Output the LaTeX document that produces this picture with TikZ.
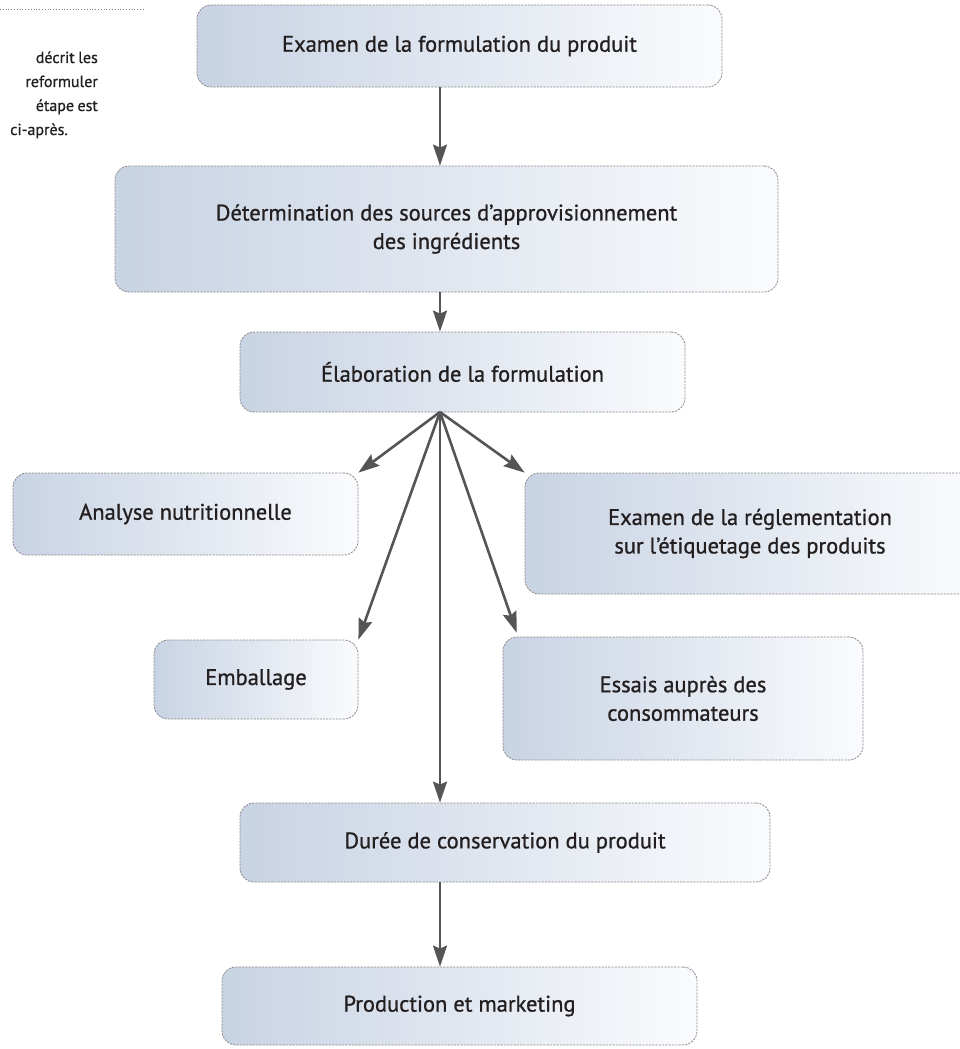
\documentclass[tikz,border=0pt]{standalone}
\usepackage{fontspec}
\setmainfont{PT Sans}
\newfontfamily\boxfont[RawFeature={embolden=0.9}]{PT Sans}
\usetikzlibrary{arrows.meta}

\definecolor{boxleft}{RGB}{200,211,227}
\definecolor{boxright}{RGB}{250,251,253}
\definecolor{arrowgray}{RGB}{85,85,87}
\definecolor{textdark}{RGB}{35,31,32}

\tikzset{
  etape/.style={draw=gray!90, dash pattern=on 2.2pt off 1.1pt, line width=0.8pt,
    rounded corners=14pt, left color=boxleft, right color=boxright,
    align=center, text=textdark, inner sep=0pt,
    font=\boxfont\fontsize{22.5}{28.5}\selectfont},
  fleche/.style={draw=arrowgray, line width=2.6pt,
    -{Stealth[length=21pt,width=14pt,inset=3pt]}},
  note/.style={text=textdark, inner sep=0pt, font=\boxfont\fontsize{16}{24}\selectfont},
}

\begin{document}
\begin{tikzpicture}[x=1pt,y=-1pt]
    \useasboundingbox (0,0) rectangle (960,1049);

    % Side note (cut off at the left)
    \draw[gray, dotted, line width=0.8pt] (0,9) -- (144,9);
    \node[note, anchor=base east] (n1) at (98,63) {\makebox[62pt][s]{décrit les}};
    \node[note, anchor=base east] (n2) at (98,87) {reformuler};
    \node[note, anchor=base east] (n3) at (98,111) {\makebox[62pt][s]{étape est}};
    \node[note, anchor=base east] (n4) at (68,135) {ci-après.};

    % Boxes
    \node[etape, minimum width=525pt, minimum height=82pt] (exam) at (459.5,46) {Examen de la formulation du produit};
    \node[etape, minimum width=663pt, minimum height=126pt] (sources) at (446.5,229) {Détermination des sources d’approvisionnement\\des ingrédients};
    \node[etape, minimum width=445pt, minimum height=80pt] (elab) at (462.5,372) {Élaboration de la formulation};
    \node[etape, minimum width=345pt, minimum height=82pt] (analyse) at (185.5,514) {Analyse nutritionnelle};
    \node[etape, minimum width=450pt, minimum height=121pt] (regl) at (750,533.5) {Examen de la réglementation\\sur l’étiquetage des produits};
    \node[etape, minimum width=204pt, minimum height=79pt] (emballage) at (256,679.5) {Emballage};
    \node[etape, minimum width=360pt, minimum height=123pt] (essais) at (683,698.5) {Essais auprès des\\consommateurs};
    \node[etape, minimum width=530pt, minimum height=79pt] (duree) at (505,842.5) {Durée de conservation du produit};
    \node[etape, minimum width=475pt, minimum height=78pt] (prod) at (459.5,1006) {Production et marketing};

    % Arrows
    \coordinate (axe) at (440,412);
    \draw[fleche] (exam.south -| axe) -- (sources.north -| axe);
    \draw[fleche] (sources.south -| axe) -- (elab.north -| axe);
    \foreach \cible in {analyse.north east, emballage.north east, regl.north west}
        \draw[fleche] (axe) -- (\cible);
    \draw[fleche] (axe) -- ([xshift=14pt,yshift=4pt]essais.north west);
    \draw[fleche] (axe) -- (duree.north -| axe);
    \draw[fleche] (duree.south -| axe) -- (prod.north -| axe);
\end{tikzpicture}
\end{document}
